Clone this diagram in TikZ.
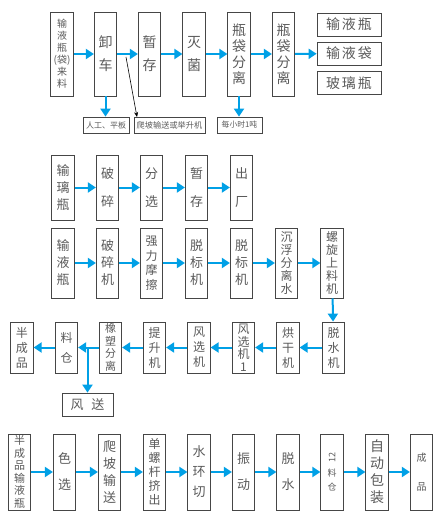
\documentclass[tikz,border=0pt]{standalone}
\usepackage{fontspec}
\newfontfamily\cjk{Noto Sans CJK SC}
\usetikzlibrary{arrows.meta}
\definecolor{flowblue}{RGB}{0,160,230}
\definecolor{boxgray}{RGB}{70,70,70}
\definecolor{txtgray}{RGB}{90,90,90}
\newcommand{\cjksize}[2]{\cjk\fontsize{#1}{#2}\selectfont}
\tikzset{
  box/.style={draw=boxgray, line width=0.8pt, text=txtgray, inner sep=0pt, minimum width=22.5pt, align=center},
  flow/.style={draw=flowblue, line width=2pt, -{Triangle[length=8pt,width=10pt]}},
}
\begin{document}
\begin{tikzpicture}[x=1pt, y=-1pt]
\useasboundingbox (0,0) rectangle (436,532);

% incoming material
\begin{scope}[every node/.append style={box, minimum height=84pt, font={\cjksize{14}{23}}}]
\node[font={\cjksize{10}{12}}] (src) at (62,54) {输\\液\\瓶\\(袋)\\来\\料};
\node (xc) at (105.5,54) {卸\\车};
\node (zc) at (149.5,54) {暂\\存};
\node (mj) at (194,54) {灭\\菌};
\node[font={\cjksize{14}{16}}] (fl1) at (239,54) {瓶\\袋\\分\\离};
\node[font={\cjksize{14}{16}}] (fl2) at (283.5,54) {瓶\\袋\\分\\离};
\end{scope}
\begin{scope}[every node/.append style={box, minimum width=64pt, minimum height=23pt, font={\cjksize{14}{16}}}]
\node (ya) at (349,24.5) {输\hspace{2pt}液\hspace{2pt}瓶};
\node (yb) at (349,53.5) {输\hspace{2pt}液\hspace{2pt}袋};
\node (yc) at (349,83) {玻\hspace{2pt}璃\hspace{2pt}瓶};
\end{scope}
\begin{scope}[every node/.append style={box, minimum height=16pt, font={\cjksize{8}{9}}}]
\node[minimum width=46pt] (rg) at (106,125) {人工、平板};
\node[minimum width=71pt, font={\cjksize{8.2}{9}}] (pq) at (169.5,125) {爬坡输送或举升机};
\node[minimum width=45pt, font={\cjksize{7.8}{9}}] (mx) at (239.5,125) {每小时1吨};
\end{scope}
\foreach \a/\b in {src/xc, xc/zc, zc/mj, mj/fl1, fl1/fl2, fl2/yb}
  \draw[flow] (\a) -- (\b);
\draw[flow] (xc.south) -- (xc.south |- rg.north);
\draw[flow] (fl1.south) -- (fl1.south |- mx.north);
\coordinate (pz) at (126,57);
\coordinate (pe) at (137,117);
\draw[black, line width=0.6pt, -{Stealth[length=5pt,width=4pt]}] (pz) -- (pe);

% glass bottles
\begin{scope}[every node/.append style={box, minimum height=65pt, font={\cjksize{13}{28}}}]
\node[font={\cjksize{13}{17}}] (b1) at (63,187.5) {输\\璃\\瓶};
\node (b2) at (107.5,187.5) {破\\碎};
\node (b3) at (151.5,187.5) {分\\选};
\node (b4) at (196.5,187.5) {暂\\存};
\node (b5) at (241.5,187.5) {出\\厂};
\end{scope}
\foreach \a/\b in {b1/b2, b2/b3, b3/b4, b4/b5}
  \draw[flow] (\a) -- (\b);

% infusion bottles
\begin{scope}[every node/.append style={box, minimum height=70pt, font={\cjksize{13}{17}}}]
\node (c1) at (63,263) {输\\液\\瓶};
\node (c2) at (107.5,263) {破\\碎\\机};
\node[font={\cjksize{12}{14.5}}] (c3) at (151.5,263) {强\\力\\摩\\擦};
\node (c4) at (196.5,263) {脱\\标\\机};
\node (c5) at (241.5,263) {脱\\标\\机};
\node[font={\cjksize{12}{13}}] (c6) at (286.5,263) {沉\\浮\\分\\离\\水};
\node[font={\cjksize{12}{13}}] (c7) at (332,263) {螺\\旋\\上\\料\\机};
\end{scope}
\foreach \a/\b in {c1/c2, c2/c3, c3/c4, c4/c5, c5/c6, c6/c7}
  \draw[flow] (\a) -- (\b);

\begin{scope}[every node/.append style={box, minimum height=51pt, font={\cjksize{12}{15}}}]
\node (d1) at (22,347.5) {半\\成\\品};
\node[font={\cjksize{12}{20}}] (d2) at (66.5,347.5) {料\\仓};
\node[font={\cjksize{11}{12.5}}] (d3) at (110.5,347.5) {橡\\塑\\分\\离};
\node (d4) at (154.5,347.5) {提\\升\\机};
\node (d5) at (199,347.5) {风\\选\\机};
\node[font={\cjksize{12}{12.5}}] (d6) at (243.5,347.5) {风\\选\\机\\1};
\node (d7) at (288,347.5) {烘\\干\\机};
\node (d8) at (333.5,347.5) {脱\\水\\机};
\end{scope}
\node[box, minimum width=51pt, minimum height=23pt, font={\cjksize{13}{16}}] (fs) at (87.5,404.5) {风\hspace{8pt}送};
\draw[flow] (c7) -- (d8);
\foreach \a/\b in {d8/d7, d7/d6, d6/d5, d5/d4, d4/d3, d3/d2, d2/d1}
  \draw[flow] (\a) -- (\b);
\draw[flow] (fs.north |- d3.west) -- (fs.north);

% semi-finished bottles
\begin{scope}[every node/.append style={box, minimum height=76pt, font={\cjksize{13}{26}}}]
\node[font={\cjksize{11}{12.5}}] (e1) at (19.5,472) {半\\成\\品\\输\\液\\瓶};
\node (e2) at (64.5,472) {色\\选};
\node[font={\cjksize{13}{17}}] (e3) at (109.5,472) {爬\\坡\\输\\送};
\node[font={\cjksize{12}{14}}] (e4) at (154.5,472) {单\\螺\\杆\\挤\\出};
\node[font={\cjksize{13}{20}}] (e5) at (199,472) {水\\环\\切};
\node (e6) at (243.5,472) {振\\动};
\node (e7) at (288,472) {脱\\水};
\node[font={\cjksize{9}{14}}] (e8) at (332,472) {\rotatebox{90}{12}\\料\\仓};
\node[font={\cjksize{14}{17}}] (e9) at (377,472) {自\\动\\包\\装};
\node[font={\cjksize{10}{29}}] (e10) at (421.5,472) {成\\品};
\end{scope}
\foreach \a/\b in {e1/e2, e2/e3, e3/e4, e4/e5, e5/e6, e6/e7, e7/e8, e8/e9, e9/e10}
  \draw[flow] (\a) -- (\b);

\end{tikzpicture}
\end{document}
